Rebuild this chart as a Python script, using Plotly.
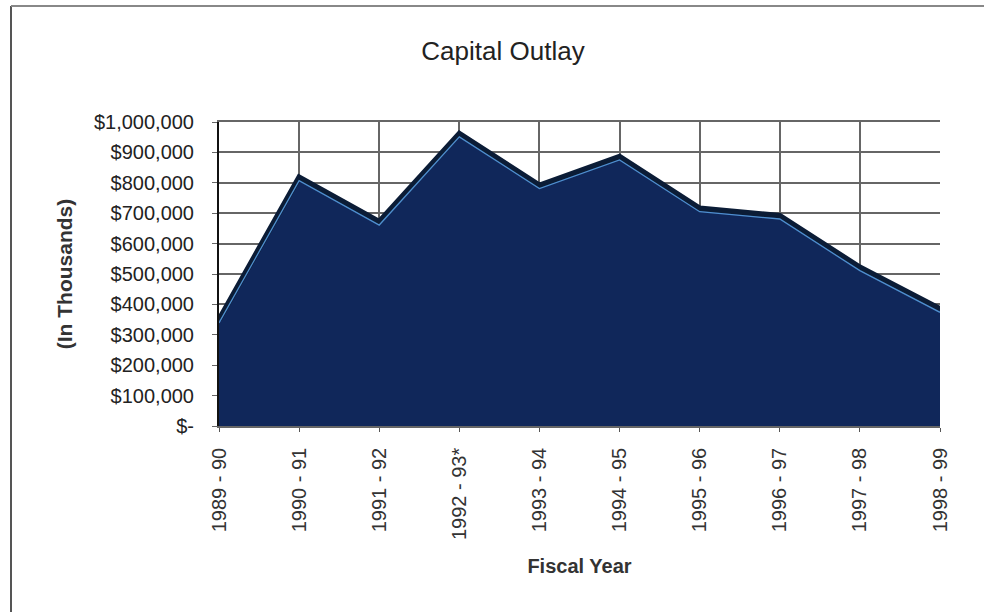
import plotly.graph_objects as go

# Fiscal years and capital outlay (in thousands of dollars)
fiscal_years = ["1989 - 90", "1990 - 91", "1991 - 92", "1992 - 93*", "1993 - 94",
                "1994 - 95", "1995 - 96", "1996 - 97", "1997 - 98", "1998 - 99"]
outlay = [350000, 818000, 672000, 962000, 792000, 886000, 716000, 692000, 522000, 385000]

y_tick_vals = [0, 100000, 200000, 300000, 400000, 500000, 600000, 700000, 800000, 900000, 1000000]
y_tick_text = ["$-", "$100,000", "$200,000", "$300,000", "$400,000", "$500,000",
               "$600,000", "$700,000", "$800,000", "$900,000", "$1,000,000"]

W, H = 984, 616
L, R, T, B = 219, 44, 122, 190
pw, ph = W - L - R, H - T - B

FONT = "Liberation Sans, Arial, sans-serif"
fig = go.Figure()

# filled area with dark outline
fig.add_trace(go.Scatter(
    x=list(range(len(fiscal_years))), y=outlay, mode="lines",
    fill="tozeroy", fillcolor="#10275a",
    line=dict(color="#0b1c36", width=5.5), hoverinfo="skip", showlegend=False))

# light highlight just inside the outline
fig.add_trace(go.Scatter(
    x=list(range(len(fiscal_years))), y=outlay, mode="lines",
    line=dict(color="#4f8fcf", width=1.3), yaxis="y2",
    hoverinfo="skip", showlegend=False))

shift = 11000
fig.update_layout(
    width=W, height=H,
    margin=dict(l=L, r=R, t=T, b=B),
    paper_bgcolor="white", plot_bgcolor="white",
    font=dict(family=FONT, color="#222222"),
    title=dict(text="Capital Outlay", x=503 / W, xref="container", xanchor="center",
               y=1 - 51 / H, yref="container", yanchor="middle",
               font=dict(size=26, family=FONT, color="#222222")),
    xaxis=dict(
        range=[0, len(fiscal_years) - 1],
        tickvals=list(range(len(fiscal_years))), ticktext=fiscal_years,
        tickangle=-90, tickfont=dict(size=20, color="#333333"),
        ticklabelstandoff=8,
        showgrid=True, gridcolor="#666666", gridwidth=1.5,
        ticks="outside", ticklen=4, tickcolor="#555555",
        showline=True, linecolor="#666666", linewidth=1.5, mirror=True,
        zeroline=False,
        title=dict(text="<b>Fiscal Year</b>", font=dict(size=20, color="#333333"),
                   standoff=20),
    ),
    yaxis=dict(
        range=[0, 1000000], tickvals=y_tick_vals, ticktext=y_tick_text,
        tickfont=dict(size=20, color="#222222"),
        ticklabelstandoff=14,
        showgrid=True, gridcolor="#666666", gridwidth=1.5,
        ticks="outside", ticklen=5, tickcolor="#666666",
        showline=True, linecolor="#111111", linewidth=2,
        zeroline=False,
        title=dict(text="<b>(In Thousands)</b>", font=dict(size=21, color="#333333"),
                   standoff=16),
    ),
    yaxis2=dict(range=[shift, 1000000 + shift], overlaying="y", visible=False),
    shapes=[
        # outer chart frame
        dict(type="line", xref="paper", yref="paper",
             x0=(11 - L) / pw, x1=(11 - L) / pw, y0=(H - B - 6) / ph, y1=(H - B - 612) / ph,
             line=dict(color="#555555", width=2)),
        dict(type="line", xref="paper", yref="paper",
             x0=(11 - L) / pw, x1=(990 - L) / pw, y0=(H - B - 6) / ph, y1=(H - B - 6) / ph,
             line=dict(color="#888888", width=2)),
    ],
)

fig.write_html("out.html")
